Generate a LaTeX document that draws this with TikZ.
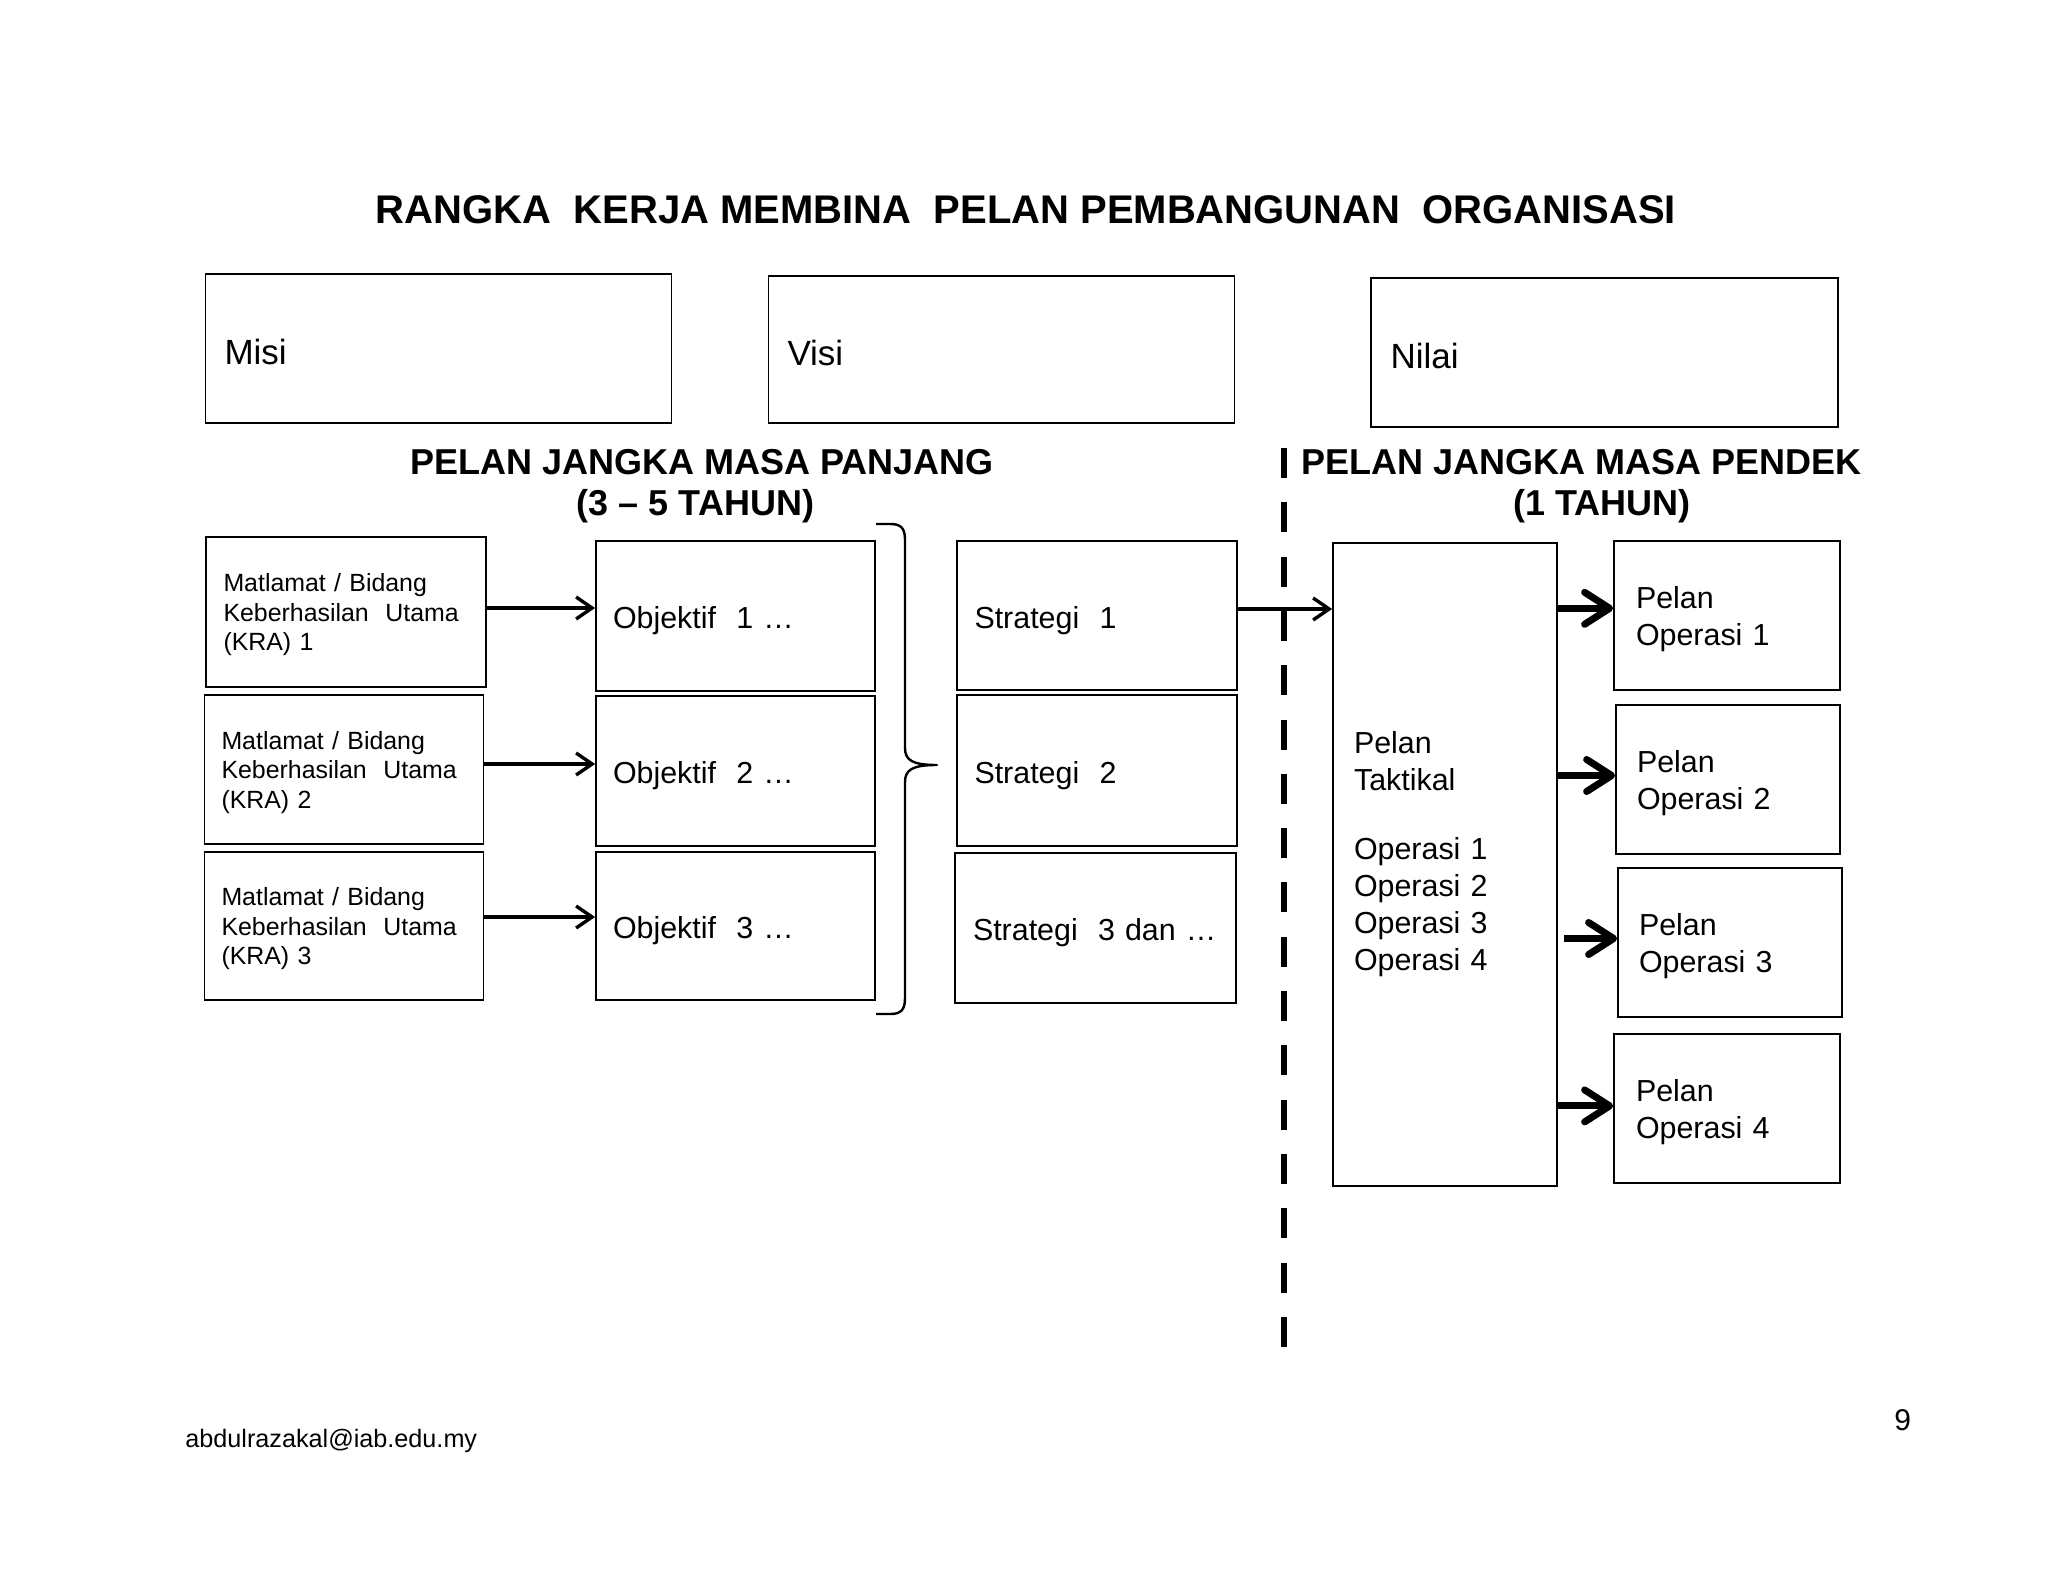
\documentclass[tikz,border=0pt]{standalone}
\usepackage{fontspec}
\setmainfont{Liberation Sans}
\usetikzlibrary{arrows.meta}
\newcommand\fstrut[1]{\rule{0pt}{#1}}
\tikzset{
  bx/.style={draw, line width=0.9pt, rectangle, inner ysep=0pt, align=left},
  bigbx/.style={bx, inner xsep=9.5pt, text width=214pt, font=\fontsize{17.5pt}{21pt}\selectfont},
  midbx/.style={bx, inner xsep=8.5pt, text width=122.5pt, font=\fontsize{15.2pt}{18.5pt}\selectfont},
  krabx/.style={midbx, font=\fontsize{12.45pt}{14.75pt}\selectfont},
  rbx/.style={bx, inner xsep=10.5pt, text width=91pt, font=\fontsize{15.2pt}{18.5pt}\selectfont},
  thinarrow/.style={line width=1.7pt, -{Straight Barb[length=8pt,width=11pt]}},
  thickarrow/.style={line width=3.5pt, -{Straight Barb[length=12.5pt,width=16pt,round]}},
  hd/.style={font=\bfseries\fontsize{18pt}{21pt}\selectfont, inner sep=0pt, anchor=base},
}
\begin{document}
\begin{tikzpicture}[x=0.5pt,y=-0.5pt]
\useasboundingbox (0,0) rectangle (2048,1582);
\fill[white] (0,0) rectangle (2048,1582);

% title
\node[inner sep=0pt, anchor=base, font=\bfseries\fontsize{20pt}{24pt}\selectfont] (title) at (1026,224)
  {RANGKA\ \ KERJA MEMBINA\ \ PELAN PEMBANGUNAN\ \ ORGANISASI};

% top boxes
\node[bigbx, minimum width=232.5pt, minimum height=74.5pt] (misi) at (438.5,348.5) {\fstrut{16.5pt}Misi};
\node[bigbx, minimum width=232.5pt, minimum height=73.5pt] (visi) at (1001.5,349.5) {\fstrut{16.5pt}Visi};
\node[bigbx, minimum width=233.5pt, minimum height=74.5pt] (nilai) at (1604.5,352.5) {\fstrut{16.5pt}Nilai};

% headings
\node[hd] (hLa) at (702,475) {PELAN JANGKA MASA PANJANG};
\node[hd] (hLb) at (695.5,516) {(3 – 5 TAHUN)};
\node[hd] (hRa) at (1581.5,475) {PELAN JANGKA MASA PENDEK};
\node[hd] (hRb) at (1602,516) {(1 TAHUN)};

% KRA boxes
\node[krabx, minimum width=140pt, minimum height=75pt] (kra1) at (346,612)
  {\fstrut{12pt}Matlamat / Bidang\\Keberhasilan\ \ Utama\\(KRA) 1};
\node[krabx, minimum width=139pt, minimum height=74.5pt] (kra2) at (344,769.5)
  {\fstrut{12pt}Matlamat / Bidang\\Keberhasilan\ \ Utama\\(KRA) 2};
\node[krabx, minimum width=139pt, minimum height=74pt] (kra3) at (344,926)
  {\fstrut{12pt}Matlamat / Bidang\\Keberhasilan\ \ Utama\\(KRA) 3};

% Objektif boxes
\node[midbx, minimum width=139.5pt, minimum height=75pt] (obj1) at (735.5,616) {\fstrut{16pt}Objektif\ \ 1 …};
\node[midbx, minimum width=139.5pt, minimum height=75pt] (obj2) at (735.5,771) {\fstrut{16pt}Objektif\ \ 2 …};
\node[midbx, minimum width=139.5pt, minimum height=74pt] (obj3) at (735.5,926) {\fstrut{16pt}Objektif\ \ 3 …};

% Strategi boxes
\node[midbx, minimum width=140pt, minimum height=74.5pt] (str1) at (1097,615.5) {\fstrut{16pt}Strategi\ \ 1};
\node[midbx, minimum width=140pt, minimum height=75.5pt] (str2) at (1097,770.5) {\fstrut{16pt}Strategi\ \ 2};
\node[midbx, minimum width=140.5pt, minimum height=75pt] (str3) at (1095.5,928) {\fstrut{16pt}Strategi\ \ 3 dan …};

% Pelan Taktikal
\node[rbx, minimum width=112pt, minimum height=321.5pt, text depth=122.4pt] (tak) at (1445,864.5)
  {Pelan\\Taktikal\\[16.25pt]Operasi 1\\Operasi 2\\Operasi 3\\Operasi 4};

% Pelan Operasi boxes
\node[rbx, minimum width=113pt, minimum height=74.5pt] (po1) at (1727,615.5) {\fstrut{15pt}Pelan\\Operasi 1};
\node[rbx, minimum width=112pt, minimum height=74.5pt] (po2) at (1728,779.5) {\fstrut{15pt}Pelan\\Operasi 2};
\node[rbx, minimum width=112pt, minimum height=74.5pt] (po3) at (1730,942.5) {\fstrut{15pt}Pelan\\Operasi 3};
\node[rbx, minimum width=113pt, minimum height=74.5pt] (po4) at (1727,1108.5) {\fstrut{15pt}Pelan\\Operasi 4};

% thin arrows
\draw[thinarrow] ([yshift=2pt]kra1.east) -- ([yshift=2pt]kra1.east -| obj1.west);
\draw[thinarrow] ([yshift=2.75pt]kra2.east) -- ([yshift=2.75pt]kra2.east -| obj2.west);
\draw[thinarrow] ([yshift=4.5pt]kra3.east) -- ([yshift=4.5pt]kra3.east -| obj3.west);
\draw[thinarrow] ([yshift=3.25pt]str1.east) -- ([yshift=3.25pt]str1.east -| tak.west);

% brace
\draw[line width=1.2pt, line join=round]
  (876,524) -- (890,524) .. controls (901,524) and (905,528) .. (905,540) -- (905,748)
  .. controls (905,760) and (912,765) .. (937,765)
  .. controls (912,765) and (905,770) .. (905,782) -- (905,998)
  .. controls (905,1010) and (901,1014) .. (890,1014) -- (876,1014);

% dashed divider
\coordinate (dtop) at (1284,448);
\coordinate (dbot) at (1284,1348);
\draw[line width=3.2pt, dash pattern=on 15pt off 12.15pt] (dtop) -- (dbot);

% thick arrows
\coordinate (p1) at ([yshift=3.6pt]po1.west);
\coordinate (p2) at ([yshift=2pt]po2.west);
\coordinate (p3) at ([yshift=2pt]po3.west);
\coordinate (p4) at ([yshift=1.3pt]po4.west);
\draw[thickarrow] (tak.east |- p1) -- (p1);
\draw[thickarrow] (tak.east |- p2) -- (p2);
\draw[thickarrow] (tak.east |- p3) ++(3pt,0) -- (p3);
\draw[thickarrow] (tak.east |- p4) -- (p4);

% footer
\node[inner sep=0pt, anchor=base west, font=\fontsize{12.6pt}{15pt}\selectfont] (mail) at (185,1447) {abdulrazakal@iab.edu.my};
\node[inner sep=0pt, anchor=base west, font=\fontsize{15pt}{18pt}\selectfont] (pgno) at (1894,1430) {9};
\end{tikzpicture}
\end{document}
